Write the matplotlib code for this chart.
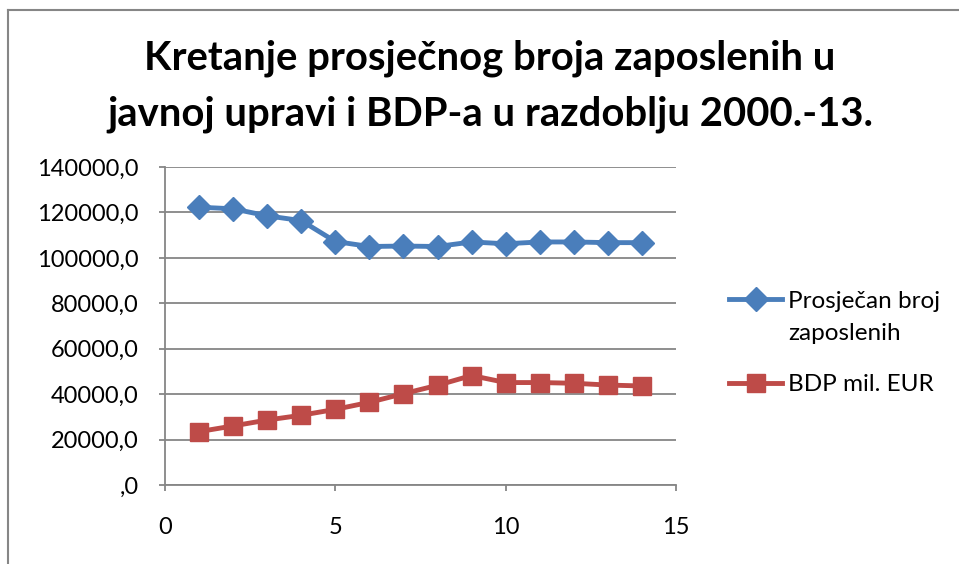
import matplotlib
matplotlib.use("Agg")
import matplotlib.pyplot as plt
from matplotlib.lines import Line2D
from matplotlib.ticker import FuncFormatter

years = list(range(1, 15))
zaposleni = [122300, 121600, 118500, 116400, 107200, 105000, 105200,
             105000, 107000, 106200, 107000, 107000, 106700, 106700]
bdp = [23500, 26000, 28600, 30700, 33300, 36400, 40200,
       43900, 48200, 45100, 45100, 44800, 44000, 43600]
series_labels = ["Prosječan broj\nzaposlenih", "BDP mil. EUR"]
title = "Kretanje prosječnog broja zaposlenih u\njavnoj upravi i BDP-a u razdoblju 2000.-13."

plt.rcParams['font.family'] = ['Lato', 'DejaVu Sans']

fig = plt.figure(figsize=(9.59, 5.64), dpi=100)
ax = fig.add_axes([165/959, 1-485/564, (676-165)/959, (485-167)/564])

blue = "#4A7EBB"
red = "#BE4B48"
grid = "#868686"

ax.plot(years, zaposleni, color=blue, lw=3.5, marker='D', markersize=12,
        label=series_labels[0], solid_joinstyle='round', zorder=3)
ax.plot(years, bdp, color=red, lw=3.5, marker='s', markersize=12.5,
        label=series_labels[1], solid_joinstyle='round', zorder=3)

ax.set_xlim(0, 15)
ax.set_ylim(0, 140000)
ax.set_xticks([0, 5, 10, 15])
ax.set_yticks(range(0, 140001, 20000))

def yfmt(v, pos):
    v = int(round(v))
    return ",0" if v == 0 else f"{v},0"
ax.yaxis.set_major_formatter(FuncFormatter(yfmt))

ax.yaxis.grid(True, color=grid, lw=1.3)
ax.set_axisbelow(True)
for s in ['top', 'right']:
    ax.spines[s].set_visible(False)
for s in ['left', 'bottom']:
    ax.spines[s].set_color(grid)
    ax.spines[s].set_linewidth(1.3)
ax.tick_params(axis='both', colors=grid, labelcolor='black', labelsize=17,
               length=4, width=1.3)
ax.tick_params(axis='x', pad=19)
ax.tick_params(axis='y', pad=15)

fig.text(490/959, 1-86/564, title, ha='center', va='center', fontsize=28.8,
         fontweight='bold', linespacing=1.6)

leg = ax.legend(loc='center left', bbox_to_anchor=(707/959, 1-343/564),
                bbox_transform=fig.transFigure, frameon=False, fontsize=17.5,
                handlelength=2.2, labelspacing=1.25, handletextpad=0.25)
for t in leg.get_texts():
    t.set_linespacing(1.65)
try:
    for col in leg._legend_handle_box.get_children():
        for item in col.get_children():
            item.align = 'top'
except Exception:
    pass

fig.add_artist(Line2D([8/959, 1], [1-10/564, 1-10/564], color=grid, lw=1.5,
                      transform=fig.transFigure))
fig.add_artist(Line2D([8/959, 8/959], [0, 1-10/564], color=grid, lw=1.5,
                      transform=fig.transFigure))

fig.savefig("out.png", dpi=100)
